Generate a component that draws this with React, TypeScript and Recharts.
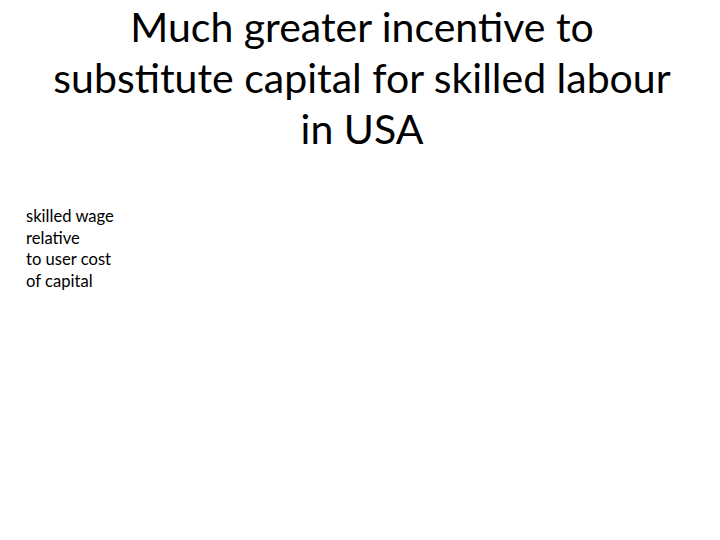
import { LineChart, Line, XAxis, YAxis } from 'recharts'

// the slide's chart area is empty: no plotted values are visible
const categories: string[] = []
const values: number[] = []

const titleLines = ['Much greater incentive to', 'substitute capital for skilled labour', 'in USA']
const yLabelLines = ['skilled wage', 'relative', 'to user cost', 'of capital']

const data = categories.map((c, i) => ({ name: c, value: values[i] }))

const FONT = 'Lato, "Open Sans", sans-serif'

function YLabel() {
  return (
    <text x={26} y={62} fill="#000" fontSize={16.6} fontFamily={FONT}>
      {yLabelLines.map((line, i) => (
        <tspan key={line} x={26} dy={i === 0 ? 0 : 21.7}>
          {line}
        </tspan>
      ))}
    </text>
  )
}

export default function App() {
  return (
    <div
      style={{
        position: 'fixed',
        left: 0,
        top: 0,
        width: 720,
        height: 540,
        background: '#fff',
        fontFamily: FONT,
      }}
    >
      <div
        style={{
          position: 'absolute',
          top: 1,
          left: 0,
          width: 724,
          textAlign: 'center',
          fontSize: 41,
          lineHeight: '51px',
          color: '#000',
        }}
      >
        {titleLines.map((line) => (
          <div key={line}>{line}</div>
        ))}
      </div>
      <div style={{ position: 'absolute', top: 160, left: 0 }}>
        <LineChart width={720} height={380} data={data} margin={{ top: 10, right: 20, left: 0, bottom: 10 }}>
          <XAxis dataKey="name" hide />
          <YAxis
            width={130}
            axisLine={false}
            tickLine={false}
            tick={false}
            label={{ content: () => <YLabel /> }}
          />
          <Line type="linear" dataKey="value" stroke="#000" dot={false} isAnimationActive={false} />
        </LineChart>
      </div>
    </div>
  )
}
